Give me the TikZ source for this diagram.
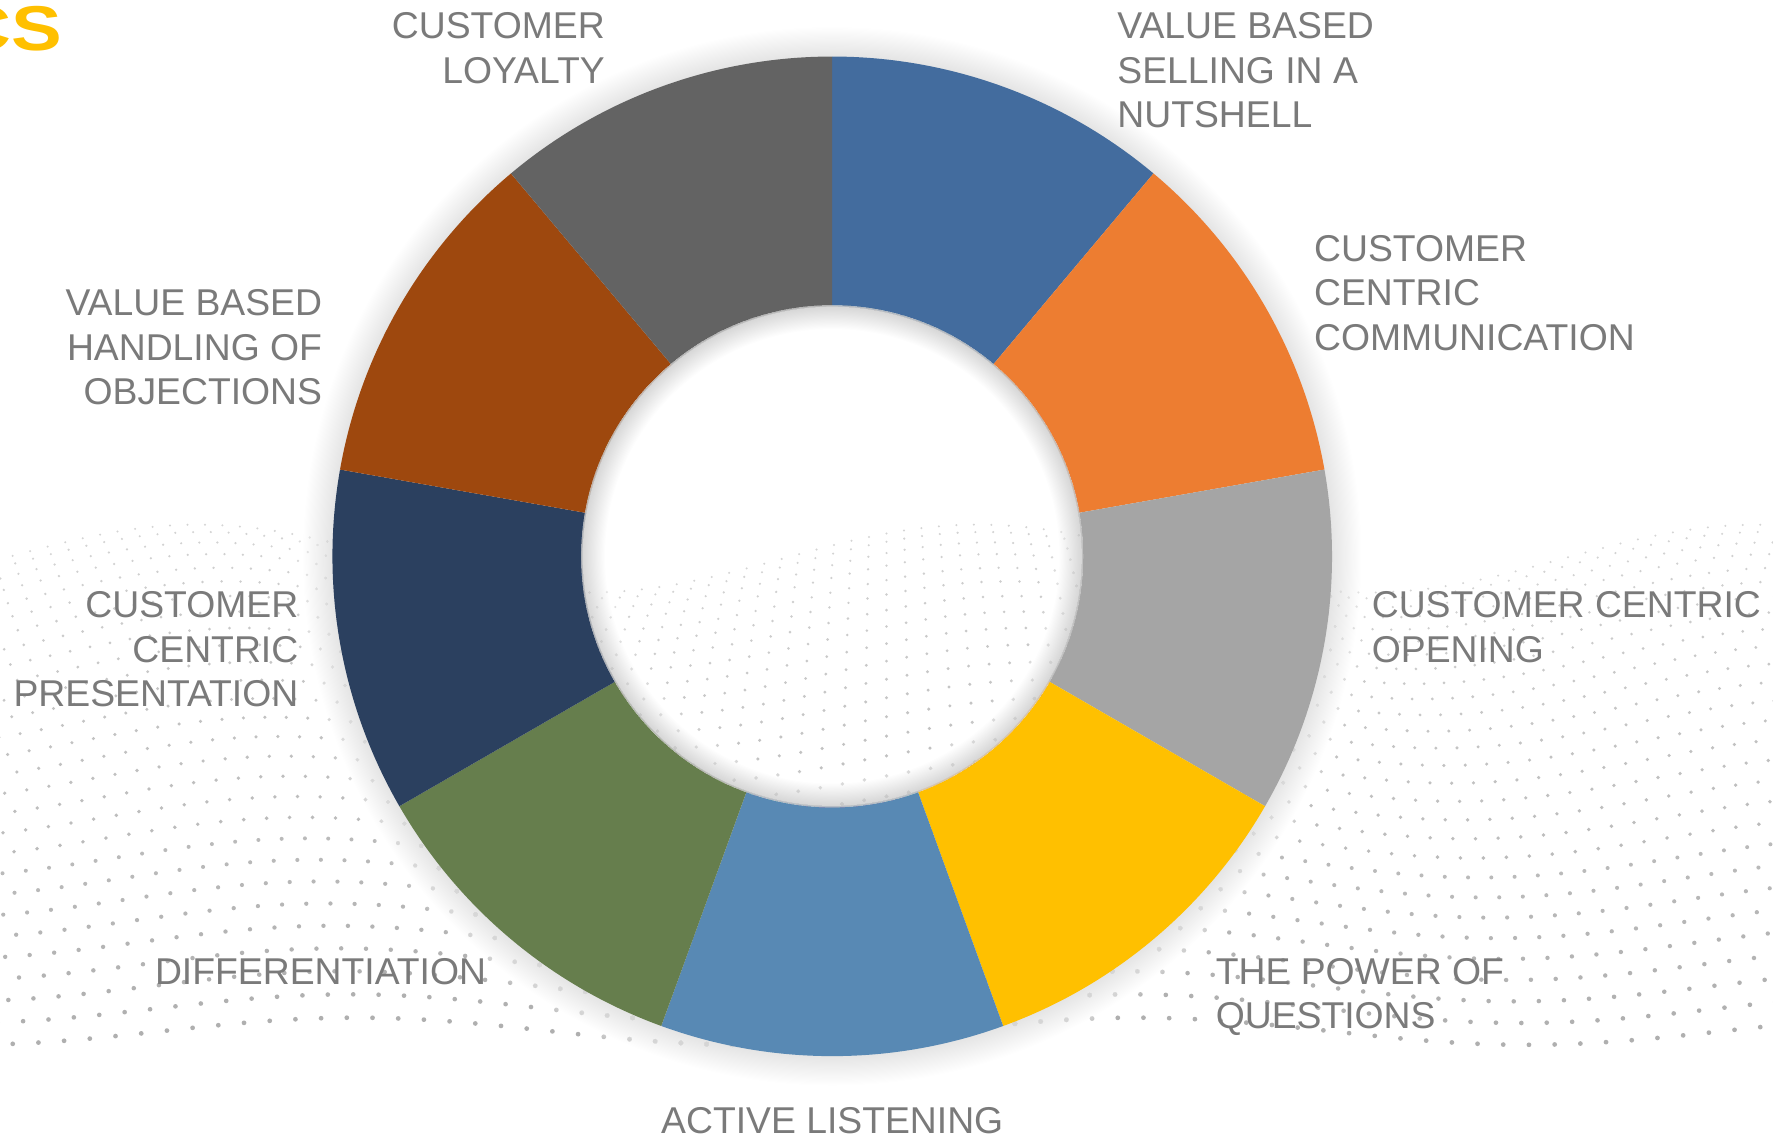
\documentclass[tikz,border=0pt]{standalone}
\usepackage{fontspec}
\setmainfont{Liberation Sans}

\definecolor{segblue}{HTML}{436C9E}
\definecolor{segorange}{HTML}{ED7D31}
\definecolor{seggray}{HTML}{A5A5A5}
\definecolor{segyellow}{HTML}{FFC000}
\definecolor{seglightblue}{HTML}{5889B4}
\definecolor{seggreen}{HTML}{667E4D}
\definecolor{segnavy}{HTML}{2B405F}
\definecolor{segbrown}{HTML}{9E480E}
\definecolor{segdark}{HTML}{636363}
\definecolor{labelgray}{HTML}{7A7A7A}
\definecolor{dotgray}{HTML}{ABABAB}
\definecolor{titleyellow}{HTML}{FFC000}

\begin{document}
\begin{tikzpicture}[x=1pt,y=-1pt,
  lbl/.style={text=labelgray, inner sep=0pt,
    font=\fontsize{33}{39.3}\selectfont},
  lblL/.style={lbl, align=left},
  lblR/.style={lbl, align=right},
  wavedot/.style={fill=dotgray}]

\useasboundingbox (0,0) rectangle (1568,1008);
\clip (0,0) rectangle (1568,1008);
\fill[white] (0,0) rectangle (1568,1008);

% dotted wave surface in the background (far rows on top, near rows below)
\foreach \j in {0,...,27}{
  \pgfmathsetmacro\t{\j/27}
  \pgfmathsetmacro\yb{494+418*pow(\t,1.3)}
  \pgfmathsetmacro\W{1700+800*\t}
  \pgfmathsetmacro\rad{1.0+1.1*\t}
  \pgfmathsetmacro\amp{30-18*\t}
  \pgfmathsetmacro\sh{140*\t}
  \pgfmathsetmacro\op{0.5+0.45*\t}
  \foreach \i in {0,...,110}{
    \pgfmathsetmacro\x{784+(\i/110-0.5)*\W}
    \pgfmathsetmacro\y{\yb+\amp*cos(0.5217*(\x-520-\sh))}
    \fill[wavedot, opacity=\op] (\x,\y) circle[radius=\rad];
  }
}

% title fragment at the top left
\node[anchor=base east, inner sep=0pt, text=titleyellow,
  font=\fontsize{56}{60}\selectfont\bfseries] (title) at (55,45)
  {\scalebox{1.2}[1]{CS}};

% donut chart
\begin{scope}[shift={(736,492)}, y=1pt]
  % white halo that fades the dots next to the ring
  \foreach \k in {1,...,34}{
    \fill[white, opacity=0.06, even odd rule]
      (0,0) circle[radius=442+\k] (0,0) circle[radius=441];
  }
  % soft outer shadow
  \foreach \k in {1,...,26}{
    \fill[black, opacity=0.0035, even odd rule]
      (0,0) circle[radius=442+\k] (0,0) circle[radius=441];
  }
  \foreach \a/\b/\c in {90/50/segblue, 50/10/segorange, 10/-30/seggray,
      -30/-70/segyellow, -70/-110/seglightblue, -110/-150/seggreen,
      -150/-190/segnavy, -190/-230/segbrown, -230/-270/segdark}{
    \fill[\c] (\a:442) arc[start angle=\a, end angle=\b, radius=442]
      -- (\b:221) arc[start angle=\b, end angle=\a, radius=221] -- cycle;
  }
  % the hole: white fade and inner shadow along its rim
  \foreach \k in {1,...,30}{
    \fill[white, opacity=0.06, even odd rule]
      (0,0) circle[radius=222] (0,0) circle[radius=221-\k];
  }
  \foreach \k in {1,...,20}{
    \fill[black, opacity=0.007, even odd rule]
      (0,0) circle[radius=222] (0,0) circle[radius=221-\k];
  }
\end{scope}

% segment labels
\node[lblR, anchor=north east] (loyalty) at (535,11) {CUSTOMER\\LOYALTY};
\node[lblL, anchor=north west] (nutshell) at (988,11) {VALUE BASED\\SELLING IN A\\NUTSHELL};
\node[lblL, anchor=north west] (communication) at (1162,208) {CUSTOMER\\CENTRIC\\COMMUNICATION};
\node[lblL, anchor=north west] (opening) at (1213,523) {CUSTOMER CENTRIC\\OPENING};
\node[lblL, anchor=north west] (questions) at (1075,847) {THE POWER OF\\QUESTIONS};
\node[lbl, anchor=north] (listening) at (736,979) {ACTIVE LISTENING};
\node[lbl, anchor=north east] (differentiation) at (430,847) {DIFFERENTIATION};
\node[lblR, anchor=north east] (presentation) at (264,523) {CUSTOMER\\CENTRIC\\PRESENTATION};
\node[lblR, anchor=north east] (objections) at (285,256) {VALUE BASED\\HANDLING OF\\OBJECTIONS};

\end{tikzpicture}
\end{document}
